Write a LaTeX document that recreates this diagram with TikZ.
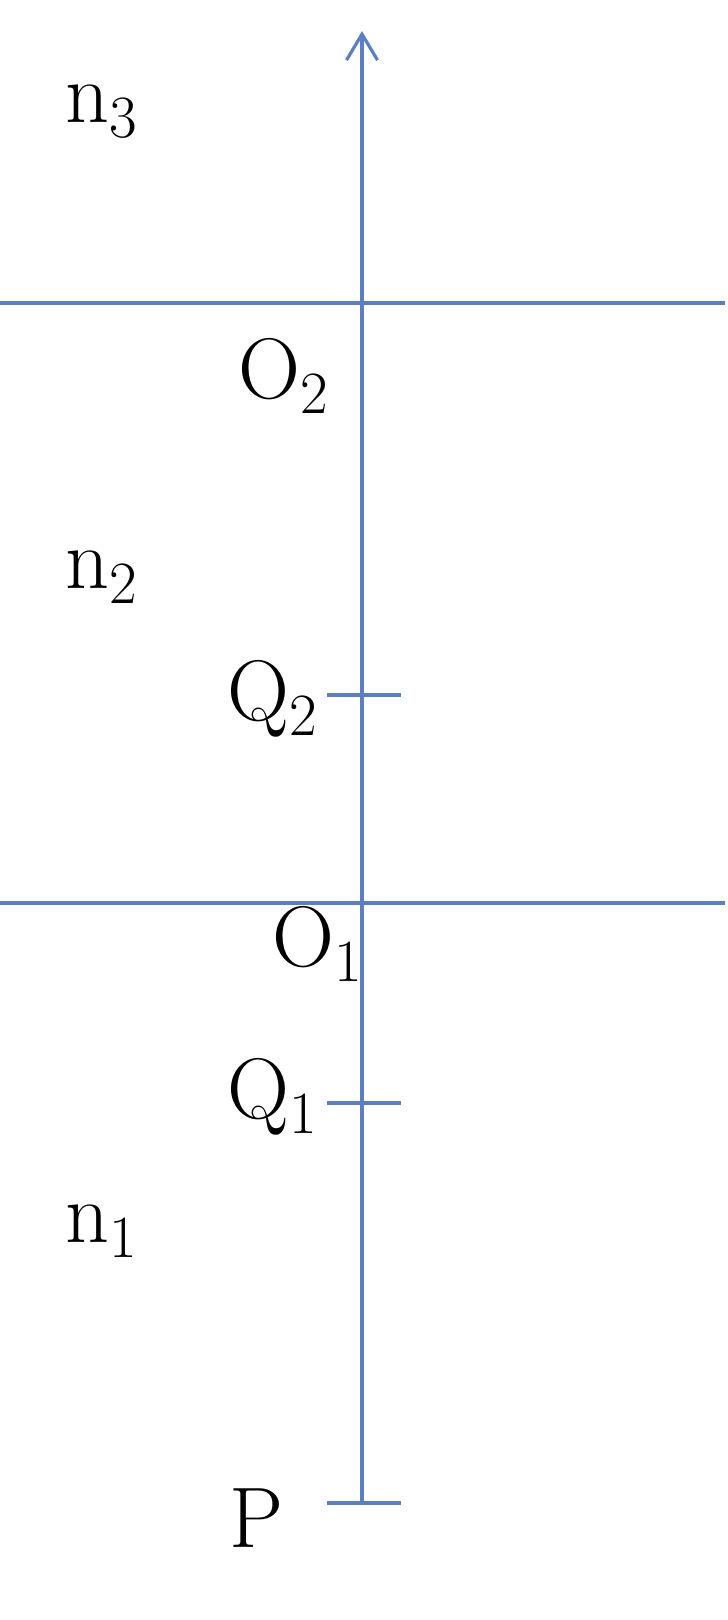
\documentclass[tikz,border=0pt]{standalone}
\usetikzlibrary{arrows.meta}
\definecolor{axisblue}{RGB}{91,127,193}
\newcommand\idx[1]{\raisebox{-15pt}{\fontsize{60}{62}\selectfont #1}}

\begin{document}
\begin{tikzpicture}[x=1pt, y=-1pt,
    line/.style={draw=axisblue, line width=3.2pt},
    arrow/.style={line, -{Straight Barb[length=26pt, width=31pt, line width=3.2pt]}},
    lbl/.style={anchor=base west, inner sep=0pt, font=\fontsize{86}{90}\selectfont}
]
    \useasboundingbox (0,0) rectangle (728,1620);
    % interfaces
    \coordinate (s2l) at (0,303);
    \coordinate (s2r) at (725,303);
    \coordinate (s1l) at (0,903);
    \coordinate (s1r) at (725,903);
    % points on the axis
    \coordinate (p) at (362,1503);
    \coordinate (q1) at (362,1103);
    \coordinate (q2) at (362,695);
    \coordinate (top) at (362,31);

    \node[lbl] (n3) at (65,122) {n\idx{3}};
    \node[lbl] (o2) at (238,398) {O\idx{2}};
    \node[lbl] (n2) at (65,588) {n\idx{2}};
    \node[lbl] (lq2) at (227,720) {Q\idx{2}};
    \node[lbl] (o1) at (272,966) {O\idx{1}};
    \node[lbl] (lq1) at (227,1118) {Q\idx{1}};
    \node[lbl] (n1) at (65,1242) {n\idx{1}};
    \node[lbl] (lp) at (229,1547) {P};

    \draw[line] (s2l) -- (s2r);
    \draw[line] (s1l) -- (s1r);
    \draw[arrow] (p) -- (top);
    \draw[line] ([xshift=-35pt]p) -- ([xshift=39pt]p);
    \draw[line] ([xshift=-35pt]q1) -- ([xshift=39pt]q1);
    \draw[line] ([xshift=-35pt]q2) -- ([xshift=39pt]q2);
\end{tikzpicture}
\end{document}
